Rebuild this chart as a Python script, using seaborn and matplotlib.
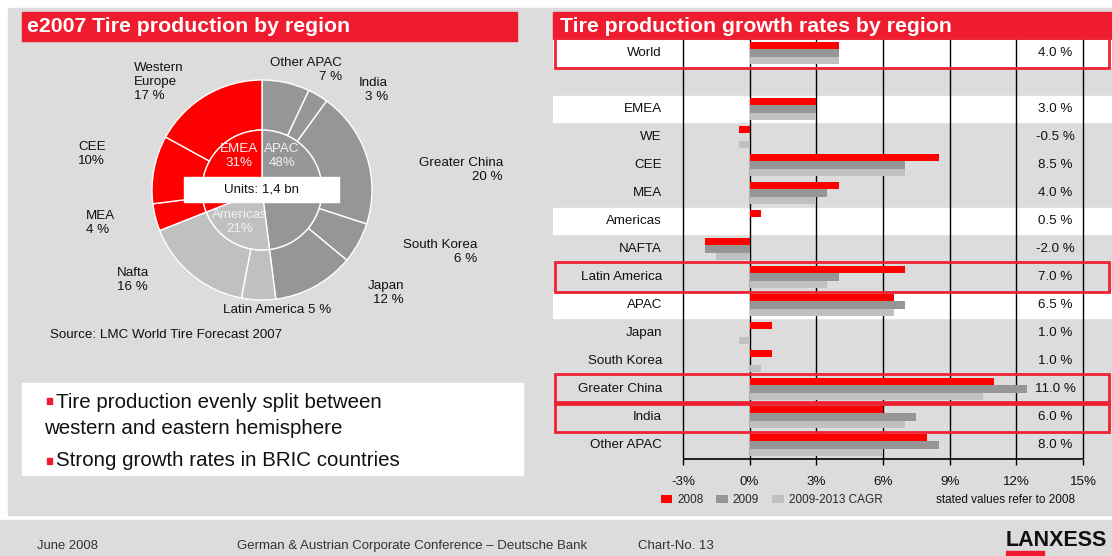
import numpy as np
import pandas as pd
import seaborn as sns
import matplotlib.pyplot as plt
from matplotlib.patches import Rectangle

sns.set_theme(style="white")
plt.rcParams['font.family'] = ['Liberation Sans', 'DejaVu Sans']

W, H = 1112, 556

# --- pie data (e2007 production shares, %) ---
inner_labels = ["APAC", "Americas", "EMEA"]
inner_shares = [48, 21, 31]
outer_labels = ["Other APAC", "India", "Greater China", "South Korea", "Japan",
                "Latin America", "Nafta", "MEA", "CEE", "Western Europe"]
outer_shares = [7, 3, 20, 6, 12, 5, 16, 4, 10, 17]
outer_group = ["APAC"] * 5 + ["Americas"] * 2 + ["EMEA"] * 3

# --- growth rates by region (%) ---
regions = ["World", "", "EMEA", "WE", "CEE", "MEA", "Americas", "NAFTA",
           "Latin America", "APAC", "Japan", "South Korea", "Greater China",
           "India", "Other APAC"]
g2008 = [4.0, np.nan, 3.0, -0.5, 8.5, 4.0, 0.5, -2.0, 7.0, 6.5, 1.0, 1.0, 11.0, 6.0, 8.0]
g2009 = [4.0, np.nan, 3.0, 0.0, 7.0, 3.5, 0.0, -2.0, 4.0, 7.0, 0.0, 0.0, 12.5, 7.5, 8.5]
cagr = [4.0, np.nan, 3.0, -0.5, 7.0, 3.0, 0.0, -1.5, 3.5, 6.5, -0.5, 0.5, 10.5, 7.0, 6.0]
series = ["2008", "2009", "2009-2013 CAGR"]
xticks = [-3, 0, 3, 6, 9, 12, 15]
white_rows = ["World", "EMEA", "Americas", "APAC"]
boxed_rows = ["World", "Latin America", "Greater China", "India"]

RED = "#ff0000"
TITLE_RED = "#ee1c2e"
DARK = "#969696"
LIGHT = "#c0c0c0"
BG = "#dcdcdc"
TXT = "#111111"
FS = 9.6
group_colors = {"EMEA": RED, "APAC": DARK, "Americas": LIGHT}


def px_rect(x0, y0, x1, y1):
    return [x0 / W, 1 - y1 / H, (x1 - x0) / W, (y1 - y0) / H]


fig = plt.figure(figsize=(W / 100, H / 100), dpi=100)
fig.patch.set_facecolor("white")

# background / page layer in pixel coordinates
bg = fig.add_axes([0, 0, 1, 1], zorder=0)
bg.set_xlim(0, W)
bg.set_ylim(H, 0)
bg.axis("off")
bg.add_patch(Rectangle((8, 8), W - 8, 507, color=BG))
bg.add_patch(Rectangle((0, 520), W, 36, color=BG))
bg.add_patch(Rectangle((22, 12), 495, 29, color=TITLE_RED))
bg.add_patch(Rectangle((553, 12), W - 553, 28, color=TITLE_RED))
bg.add_patch(Rectangle((22, 383), 501, 92, color="white"))

# overlay layer for texts
top = fig.add_axes([0, 0, 1, 1], zorder=10)
top.set_xlim(0, W)
top.set_ylim(H, 0)
top.axis("off")
top.patch.set_alpha(0)

top.text(27, 26, "e2007 Tire production by region", color="white",
         fontsize=15.3, fontweight="bold", va="center")
top.text(560, 26, "Tire production growth rates by region", color="white",
         fontsize=15.3, fontweight="bold", va="center")

# ---------------- pie ----------------
axp = fig.add_axes(px_rect(152, 80, 372, 300), zorder=5)
axp.pie(outer_shares, radius=1.0, startangle=90, counterclock=False,
        colors=[group_colors[g] for g in outer_group],
        wedgeprops=dict(width=0.455, edgecolor="white", linewidth=1))
axp.pie(inner_shares, radius=0.545, startangle=90, counterclock=False,
        colors=[group_colors[g] for g in inner_labels],
        wedgeprops=dict(edgecolor="white", linewidth=1))
axp.set_xlim(-1.0, 1.0)
axp.set_ylim(-1.0, 1.0)
axp.set_aspect("equal")

top.add_patch(Rectangle((184, 177), 155, 25, color="white"))
top.text(262, 190, "Units: 1,4 bn", fontsize=FS, ha="center", va="center", color=TXT)

inner_pos = {"EMEA": (239, 156), "APAC": (282, 156), "Americas": (240, 222)}
for lab, share in zip(inner_labels, inner_shares):
    x, y = inner_pos[lab]
    top.text(x, y, f"{lab}\n{share}%", fontsize=FS, ha="center", va="center",
             color="#f2f2f2", linespacing=1.2)

outer_pos = {
    "Western Europe": (134, 82, "left", "Western\nEurope\n17 %"),
    "Other APAC": (342, 70, "right", "Other APAC\n7 %"),
    "India": (388, 90, "right", "India\n3 %"),
    "Greater China": (503, 170, "right", "Greater China\n20 %"),
    "CEE": (78, 154, "left", "CEE\n10%"),
    "MEA": (86, 223, "left", "MEA\n4 %"),
    "South Korea": (477, 252, "right", "South Korea\n6 %"),
    "Nafta": (117, 280, "left", "Nafta\n16 %"),
    "Japan": (404, 293, "right", "Japan\n12 %"),
    "Latin America": (223, 310, "left", "Latin America 5 %"),
}
for lab in outer_labels:
    x, y, ha, txt = outer_pos[lab]
    top.text(x, y, txt, fontsize=FS, ha=ha, va="center", color=TXT,
             linespacing=1.2)

top.text(50, 335, "Source: LMC World Tire Forecast 2007", fontsize=FS,
         va="center", color=TXT)

# bullets
for yb in (401, 461):
    top.add_patch(Rectangle((47, yb - 3), 5, 6, color=TITLE_RED))
top.text(56, 402, "Tire production evenly split between", fontsize=14.8, va="center", color=TXT)
top.text(44, 428, "western and eastern hemisphere", fontsize=14.8, va="center", color=TXT)
top.text(56, 461, "Strong growth rates in BRIC countries", fontsize=14.8, va="center", color=TXT)

# ---------------- bars ----------------
df = pd.DataFrame({"region": regions * 3,
                   "series": np.repeat(series, len(regions)),
                   "value": g2008 + g2009 + cagr})

PPU = (1083 - 683) / 18.0
xl = -3 - (683 - 553) / PPU
xr = -3 + (W - 683) / PPU

axb = fig.add_axes(px_rect(553, 39, W, 459), zorder=5)
axb.patch.set_alpha(0)
sns.barplot(data=df, y="region", x="value", hue="series", order=regions,
            hue_order=series, palette=[RED, DARK, LIGHT], orient="h",
            width=0.78, saturation=1, errorbar=None, linewidth=0, ax=axb, zorder=2)

for i, r in enumerate(regions):
    if r in white_rows:
        axb.axhspan(i - 0.48, i + 0.48, color="white", zorder=0)
axb.vlines(xticks, -0.5, 14.5, colors="black", lw=1, zorder=1)
axb.hlines(14.5, -3, 15, colors="black", lw=1.2, clip_on=False, zorder=3)

for i, r in enumerate(regions):
    axb.text(-3.95, i, r, ha="right", va="center", fontsize=FS, color=TXT)
    if not np.isnan(g2008[i]):
        axb.text(13.75, i, f"{g2008[i]:.1f} %", ha="center", va="center",
                 fontsize=FS, color=TXT, zorder=4)
    if r in boxed_rows:
        axb.add_patch(Rectangle((xl + 2 / PPU, i - 0.54), (xr - xl) - 5 / PPU, 1.08,
                                fill=False, edgecolor="#ee2233", lw=2,
                                clip_on=False, zorder=6))

axb.set_xlim(xl, xr)
axb.set_ylim(14.5, -0.5)
axb.set_yticks([])
axb.set_ylabel("")
axb.set_xlabel("")
axb.set_xticks(xticks)
axb.set_xticklabels([f"{t}%" for t in xticks])
axb.tick_params(axis="x", bottom=True, length=4, width=1, color="black",
                labelsize=FS, labelcolor=TXT, pad=8)
sns.despine(ax=axb, left=True, bottom=True)

sns.move_legend(axb, "center left", bbox_to_anchor=(650 / W, 1 - 500 / H),
                bbox_transform=fig.transFigure, ncol=3, title=None, frameon=False,
                fontsize=8.5, handlelength=1.0, handleheight=0.7,
                handletextpad=0.4, columnspacing=1.1)
top.text(936, 500, "stated values refer to 2008", fontsize=8.5, va="center", color=TXT)

# footer
top.text(37, 546, "June 2008", fontsize=9.4, va="center", color="#333333")
top.text(237, 546, "German & Austrian Corporate Conference \u2013 Deutsche Bank",
         fontsize=9.5, va="center", color="#333333")
top.text(638, 546, "Chart-No. 13", fontsize=9.5, va="center", color="#333333")
top.text(1006, 540, "LANXESS", fontsize=15.5, fontweight="bold", va="center",
         color=TXT)
top.add_patch(Rectangle((1006, 551), 38, 3.5, color=TITLE_RED))

fig.savefig("out.png", dpi=100)
